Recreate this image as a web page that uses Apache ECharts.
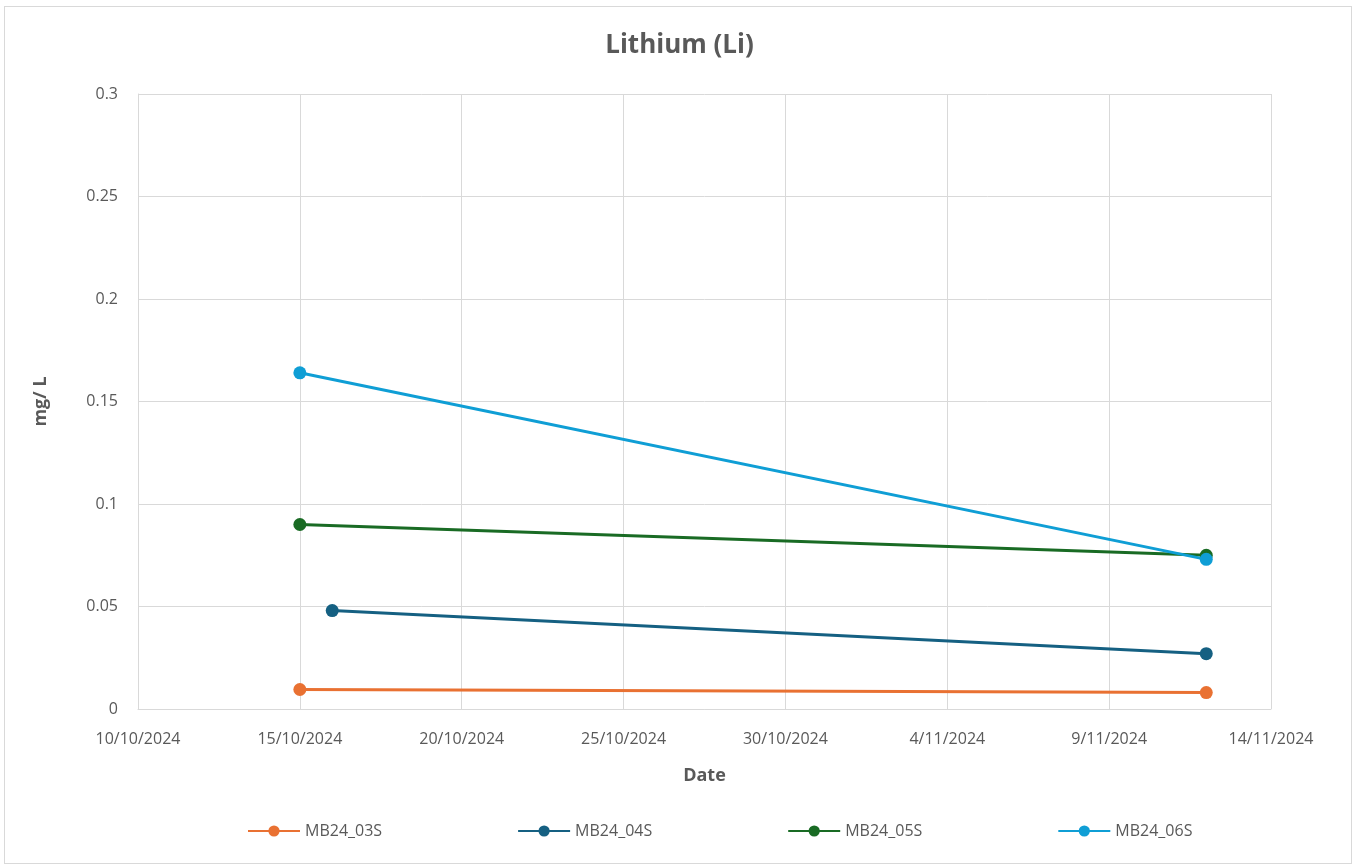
<!DOCTYPE html>
<html>
<head>
<meta charset="utf-8">
<script src="https://cdn.jsdelivr.net/npm/echarts@6/dist/echarts.min.js"></script>
<style>
html,body{margin:0;padding:0;background:#fff;}
#frame{position:absolute;left:4px;top:6px;width:1348px;height:858px;border:1px solid #d9d9d9;box-sizing:border-box;}
#chart{position:absolute;left:0;top:0;width:1359px;height:866px;}
</style>
</head>
<body>
<div id="frame"></div>
<div id="chart"></div>
<script>
const chartTitle = 'Lithium (Li)';
const yAxisName = 'mg/ L';
const xAxisName = 'Date';
const baseDate = '2024-10-10';
const endDate = '2024-11-14';
const seriesNames = ['MB24_03S', 'MB24_04S', 'MB24_05S', 'MB24_06S'];
const seriesColors = ['#E97132', '#156082', '#196B24', '#0F9ED5'];
const datesMB24_03S = ['2024-10-15', '2024-11-12'];
const valuesMB24_03S = [0.0095, 0.008];
const datesMB24_04S = ['2024-10-16', '2024-11-12'];
const valuesMB24_04S = [0.048, 0.027];
const datesMB24_05S = ['2024-10-15', '2024-11-12'];
const valuesMB24_05S = [0.09, 0.075];
const datesMB24_06S = ['2024-10-15', '2024-11-12'];
const valuesMB24_06S = [0.164, 0.073];

const DAY = 86400000;
const baseMs = Date.parse(baseDate + 'T00:00:00Z');
function dayOffset(s){ return Math.round((Date.parse(s + 'T00:00:00Z') - baseMs) / DAY); }
function fmtDay(v){
  const d = new Date(baseMs + v * DAY);
  return d.getUTCDate() + '/' + (d.getUTCMonth() + 1) + '/' + d.getUTCFullYear();
}
const allDates = [datesMB24_03S, datesMB24_04S, datesMB24_05S, datesMB24_06S];
const allValues = [valuesMB24_03S, valuesMB24_04S, valuesMB24_05S, valuesMB24_06S];

const chart = echarts.init(document.getElementById('chart'));
const font = '"Open Sans", "Noto Sans", sans-serif';
chart.setOption({
  backgroundColor: 'transparent',
  animation: false,
  textStyle: { fontFamily: font },
  title: {
    text: chartTitle, left: 'center', top: 28,
    textStyle: { fontSize: 26, fontWeight: 'bold', color: '#595959', fontFamily: font }
  },
  grid: { left: 138, right: 88, top: 94, bottom: 157 },
  legend: {
    bottom: 22, left: 242, itemGap: 135, itemWidth: 52, itemHeight: 14,
    textStyle: { fontSize: 16, color: '#595959', fontFamily: font },
    data: seriesNames
  },
  xAxis: {
    type: 'value', min: 0, max: dayOffset(endDate), interval: 5,
    name: xAxisName, nameLocation: 'middle', nameGap: 58,
    nameTextStyle: { fontSize: 18, fontWeight: 'bold', color: '#595959' },
    axisLine: { show: true, lineStyle: { color: '#d9d9d9' } },
    axisTick: { show: false },
    axisLabel: { formatter: fmtDay, fontSize: 16, color: '#595959', margin: 22 },
    splitLine: { show: true, lineStyle: { color: '#d9d9d9', width: 1 } }
  },
  yAxis: {
    type: 'value', min: 0, max: 0.3, interval: 0.05,
    name: yAxisName, nameLocation: 'middle', nameGap: 88, nameRotate: 90,
    nameTextStyle: { fontSize: 18, fontWeight: 'bold', color: '#595959' },
    axisLine: { show: true, lineStyle: { color: '#d9d9d9' } },
    axisTick: { show: false },
    axisLabel: { fontSize: 16, color: '#595959', margin: 20, formatter: v => String(Math.round(v*100)/100) },
    splitLine: { show: true, lineStyle: { color: '#d9d9d9', width: 1 } }
  },
  series: seriesNames.map((n, i) => ({
    name: n, type: 'line',
    data: allDates[i].map((d, j) => [dayOffset(d), allValues[i][j]]),
    symbol: 'circle', symbolSize: 13,
    itemStyle: { color: seriesColors[i] },
    lineStyle: { color: seriesColors[i], width: 3 }
  }))
});
</script>
</body>
</html>
